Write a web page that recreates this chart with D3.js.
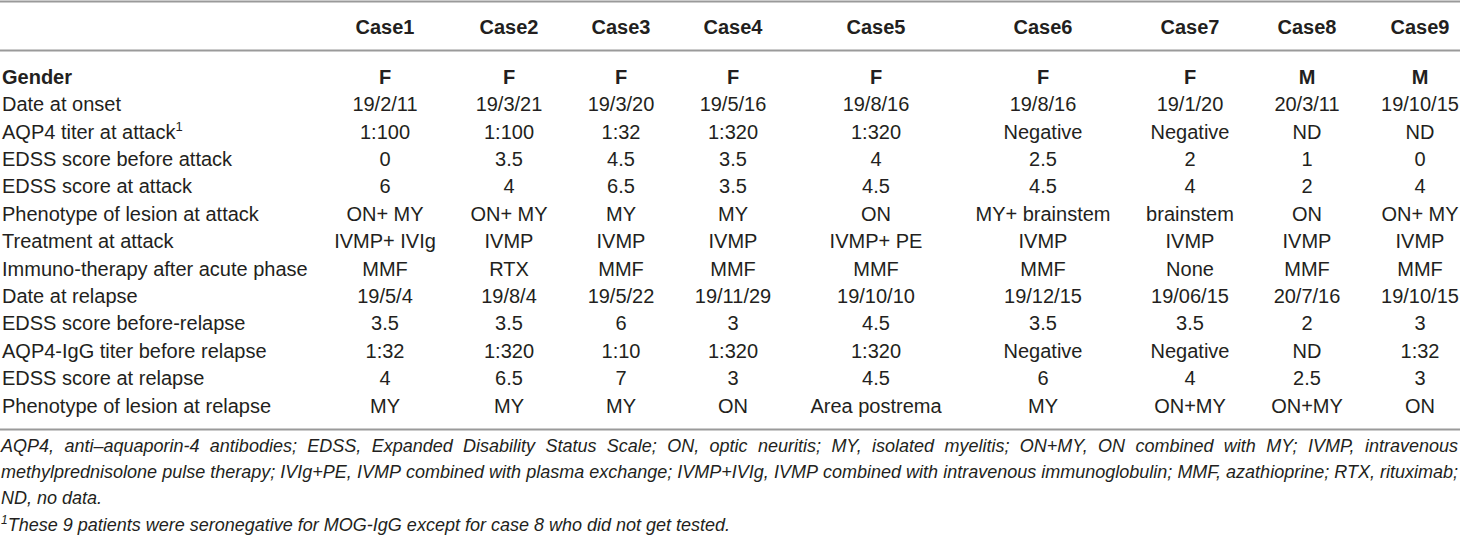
<!DOCTYPE html>
<html>
<head>
<meta charset="utf-8">
<script src="https://cdn.jsdelivr.net/npm/d3@7"></script>
<style>
  html, body { margin: 0; padding: 0; background: #fff; }
  svg { display: block; }
  text { font-family: "Liberation Sans", Arial, Helvetica, sans-serif; fill: #231f20; }
</style>
</head>
<body>
<svg id="chart" width="1460" height="538"></svg>
<script>
// ---------- data ----------
const cases = ["Case1","Case2","Case3","Case4","Case5","Case6","Case7","Case8","Case9"];
const rowLabels = [
  "Gender",
  "Date at onset",
  "AQP4 titer at attack",
  "EDSS score before attack",
  "EDSS score at attack",
  "Phenotype of lesion at attack",
  "Treatment at attack",
  "Immuno-therapy after acute phase",
  "Date at relapse",
  "EDSS score before-relapse",
  "AQP4-IgG titer before relapse",
  "EDSS score at relapse",
  "Phenotype of lesion at relapse"
];
const gender            = ["F","F","F","F","F","F","F","M","M"];
const dateOnset         = ["19/2/11","19/3/21","19/3/20","19/5/16","19/8/16","19/8/16","19/1/20","20/3/11","19/10/15"];
const aqp4Attack        = ["1:100","1:100","1:32","1:320","1:320","Negative","Negative","ND","ND"];
const edssBeforeAttack  = ["0","3.5","4.5","3.5","4","2.5","2","1","0"];
const edssAttack        = ["6","4","6.5","3.5","4.5","4.5","4","2","4"];
const phenotypeAttack   = ["ON+ MY","ON+ MY","MY","MY","ON","MY+ brainstem","brainstem","ON","ON+ MY"];
const treatmentAttack   = ["IVMP+ IVIg","IVMP","IVMP","IVMP","IVMP+ PE","IVMP","IVMP","IVMP","IVMP"];
const immunoTherapy     = ["MMF","RTX","MMF","MMF","MMF","MMF","None","MMF","MMF"];
const dateRelapse       = ["19/5/4","19/8/4","19/5/22","19/11/29","19/10/10","19/12/15","19/06/15","20/7/16","19/10/15"];
const edssBeforeRelapse = ["3.5","3.5","6","3","4.5","3.5","3.5","2","3"];
const aqp4Relapse       = ["1:32","1:320","1:10","1:320","1:320","Negative","Negative","ND","1:32"];
const edssRelapse       = ["4","6.5","7","3","4.5","6","4","2.5","3"];
const phenotypeRelapse  = ["MY","MY","MY","ON","Area postrema","MY","ON+MY","ON+MY","ON"];
const footnoteLines = [
  "AQP4, anti\u2013aquaporin-4 antibodies; EDSS, Expanded Disability Status Scale; ON, optic neuritis; MY, isolated myelitis; ON+MY, ON combined with MY; IVMP, intravenous",
  "methylprednisolone pulse therapy; IVIg+PE, IVMP combined with plasma exchange; IVMP+IVIg, IVMP combined with intravenous immunoglobulin; MMF, azathioprine; RTX, rituximab;",
  "ND, no data."
];
const footnoteMark = "1";
const footnoteSup = "These 9 patients were seronegative for MOG-IgG except for case 8 who did not get tested.";

const rowValues = [gender, dateOnset, aqp4Attack, edssBeforeAttack, edssAttack, phenotypeAttack,
  treatmentAttack, immunoTherapy, dateRelapse, edssBeforeRelapse, aqp4Relapse, edssRelapse, phenotypeRelapse];

// ---------- layout ----------
const W = 1460;
const svg = d3.select("#chart");
const x = d3.scaleOrdinal().domain(cases).range([385, 509, 621, 733, 876, 1043, 1190, 1307, 1420]);
const y = d3.scalePoint().domain(rowLabels).range([76.7, 405.3]);
const fs = 20, fnFs = 18;
const base = fs * 0.36;

// rules
const ruleY = [1.5, 50.5, 429.5];
svg.selectAll("line.rule").data(ruleY).join("line")
  .attr("class","rule")
  .attr("x1", 0).attr("x2", W)
  .attr("y1", d => d).attr("y2", d => d)
  .attr("stroke", "#9a9a9a").attr("stroke-width", 2);

// header
svg.selectAll("text.head").data(cases).join("text")
  .attr("class","head")
  .attr("x", d => x(d)).attr("y", 27 + base)
  .attr("text-anchor","middle")
  .attr("font-size", fs).attr("font-weight","bold")
  .text(d => d);

// row labels
const labels = svg.selectAll("text.rowlab").data(rowLabels).join("text")
  .attr("class","rowlab")
  .attr("x", 2).attr("y", d => y(d) + base)
  .attr("font-size", fs)
  .attr("font-weight", (d,i) => i === 0 ? "bold" : "normal")
  .text(d => d);
labels.filter((d,i) => i === 2).append("tspan")
  .attr("font-size", 13).attr("dy", -8).text("1");

// cells
rowLabels.forEach((lab, ri) => {
  svg.selectAll("text.cell-r" + ri).data(rowValues[ri]).join("text")
    .attr("class", "cell-r" + ri)
    .attr("x", (d,i) => x(cases[i]))
    .attr("y", y(lab) + base)
    .attr("text-anchor","middle")
    .attr("font-size", fs)
    .attr("font-weight", ri === 0 ? "bold" : "normal")
    .text(d => d);
});

// footnotes (first two justified)
const fnY = [451.5, 477.8, 504.2];
footnoteLines.forEach((line, li) => {
  const t = svg.append("text")
    .attr("y", fnY[li]).attr("font-size", fnFs).attr("font-style","italic");
  if (li < 2) {
    const words = line.split(" ");
    const spans = t.selectAll("tspan").data(words).join("tspan").text(d => d);
    const widths = [];
    spans.each(function(){ widths.push(this.getComputedTextLength()); });
    const total = d3.sum(widths);
    const gap = (W - 3 - total) / (words.length - 1);
    let cx = 1;
    spans.attr("x", (d,i) => { const v = cx; cx += widths[i] + gap; return v; });
  } else {
    t.attr("x", 1).text(line);
  }
});
const t4 = svg.append("text").attr("x", 1).attr("y", 530.5)
  .attr("font-size", fnFs).attr("font-style","italic");
t4.append("tspan").attr("font-size", 12).attr("dy", -7).text(footnoteMark);
t4.append("tspan").attr("dy", 7).text(footnoteSup);
</script>
</body>
</html>
